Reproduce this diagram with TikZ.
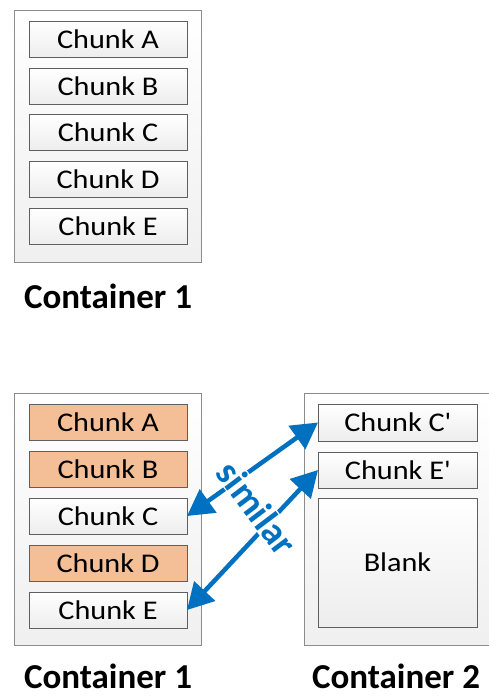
\documentclass[tikz,border=0pt]{standalone}
\usepackage{fontspec}
\setmainfont{Carlito}
\newfontfamily\chunkfont{Carlito}[FakeStretch=1.12]
\usetikzlibrary{arrows.meta,shadows}
\definecolor{boxline}{HTML}{5F5F5F}
\definecolor{contline}{HTML}{8C8C8C}
\definecolor{dupfill}{HTML}{F4BF97}
\definecolor{simblue}{HTML}{0070C0}
\tikzset{
  container/.style={draw=contline, line width=0.8pt, top color=white, bottom color=gray!12},
  chunk/.style={draw=boxline, line width=0.8pt, top color=white, bottom color=gray!14,
    drop shadow={shadow xshift=1.2pt, shadow yshift=-1.2pt, opacity=0.25, fill=gray}},
  dupchunk/.style={chunk, fill=dupfill, top color=dupfill, bottom color=dupfill},
  chunktext/.style={font=\chunkfont\fontsize{27}{30}\selectfont, text=black},
  contlabel/.style={font=\fontsize{35}{40}\selectfont\bfseries, text=black, inner sep=1pt},
  simarrow/.style={simblue, line width=4.5pt, {Triangle[width=28pt,length=26pt]}-{Triangle[width=28pt,length=26pt]}},
}
\begin{document}
\begin{tikzpicture}[x=1pt,y=-1pt]
\useasboundingbox (0,0) rectangle (488,696);

% ---- container 1, before deduplication ----
\draw[container] (14,10) rectangle (201,262);
\foreach \n/\t in {A/21, B/68, C/114, D/161, E/208}{
  \draw[chunk] (29,\t) rectangle (187,\t+36);
  \node[chunktext] (top\n) at (108,\t+18) {Chunk \n};
}
\node[contlabel] (lblTop) at (108,296) {Container 1};

% ---- container 1, after deduplication ----
\draw[container] (14,393) rectangle (201,645);
\foreach \n/\t/\s in {A/404/dupchunk, B/451/dupchunk, C/498/chunk, D/545/dupchunk, E/592/chunk}{
  \draw[\s] (29,\t) rectangle (187,\t+36);
}
\node[chunktext] (bA) at (108,422) {Chunk A};
\node[chunktext] (bB) at (108,469) {Chunk B};
\node[chunktext] (bC) at (108,516) {Chunk C};
\node[chunktext] (bD) at (108,563) {Chunk D};
\node[chunktext] (bE) at (108,610) {Chunk E};
\coordinate (cR) at (187,516);
\coordinate (eR) at (187,610);
\node[contlabel] (lblOne) at (108,676) {Container 1};

% ---- container 2 ----
\draw[container] (304,393) rectangle (500,645);
\draw[chunk] (318,404) rectangle (477,441);
\node[chunktext] (cP) at (397.5,422.5) {Chunk C\textquotesingle};
\draw[chunk] (318,452) rectangle (477,488);
\node[chunktext] (eP) at (397.5,470) {Chunk E\textquotesingle};
\draw[chunk] (318,498) rectangle (477,627);
\node[chunktext] (blank) at (397.5,562.5) {Blank};
\coordinate (cPL) at (318,422.5);
\coordinate (ePL) at (318,470);
\node[contlabel] (lblTwo) at (396,676) {Container 2};

% ---- similarity links ----
\draw[simarrow] (cR) -- (cPL);
\draw[simarrow] (eR) -- (ePL);
\node[fill=white, inner sep=1pt, rotate=-53, text=simblue,
      font=\fontsize{38}{40}\selectfont\bfseries] (sim) at (257,508) {similar};
\end{tikzpicture}
\end{document}
